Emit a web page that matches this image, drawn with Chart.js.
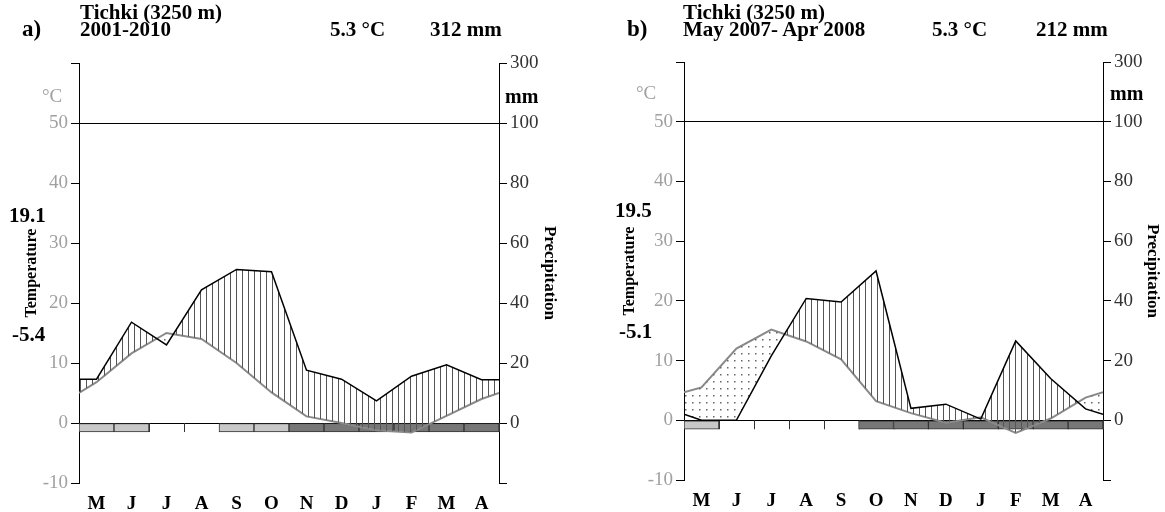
<!DOCTYPE html>
<html>
<head>
<meta charset="utf-8">
<script src="https://cdn.jsdelivr.net/npm/chart.js@4.4.1/dist/chart.umd.min.js"></script>
<style>
  body { margin: 0; background: #fff; width: 1165px; height: 512px; position: relative; overflow: hidden; font-family: 'Liberation Serif', serif; }
  .panel { position: absolute; top: 0; height: 512px; }
  .lbl { position: absolute; white-space: nowrap; line-height: 1; }
</style>
</head>
<body>
<div class="panel" style="left:0;width:580px"><canvas id="chartA"></canvas></div>
<div class="panel" style="left:605px;width:560px"><canvas id="chartB"></canvas></div>
<script>
// DATA
// x = left edge, the 12 month centres (May..Apr), right edge
const MONTHS = ['M', 'J', 'J', 'A', 'S', 'O', 'N', 'D', 'J', 'F', 'M', 'A'];

// a) 2001-2010
const TEMP_A = [5.0, 6.8, 11.6, 15.0, 14.0, 10.0, 5.1, 1.1, 0.0, -1.2, -1.6, 1.2, 4.0, 5.0];   // °C
const PREC_A = [14.6, 14.6, 33.6, 26.0, 44.4, 51.2, 50.4, 17.6, 14.6, 7.4, 15.6, 19.4, 14.4, 14.4]; // mm
const FROST_A = [1, 1, 0, 0, 1, 1, 2, 2, 2, 2, 2, 2]; // 0 none, 1 probable frost, 2 sure frost

// b) May 2007 - Apr 2008
const TEMP_B = [4.7, 5.5, 12.0, 15.2, 13.2, 10.2, 3.2, 1.2, -0.4, 0.5, -2.1, 0.3, 3.8, 4.7];
const PREC_B = [2.0, 0, 0, 21.6, 40.8, 39.6, 50.0, 4.0, 5.4, 0.4, 26.6, 14.0, 3.8, 2.0];
const FROST_B = [1, 0, 0, 0, 0, 2, 2, 2, 2, 2, 2, 2];

const TEMP_TICKS = [-10, 0, 10, 20, 30, 40, 50, 60];
const FROST_DEPTH = 1.5;

/**********************************************************************************
 * HELPERS
 *********************************************************************************/

const X_POS = [0].concat(MONTHS.map((m, i) => i + 0.5), [12]);

// Walter-Lieth: 10 °C = 20 mm up to 100 mm, above that 1:10
function precToTemp(mm) {
    return mm <= 100 ? mm / 2 : 50 + (mm - 100) / 20;
}
function tempToPrecLabel(t) {
    if (t < 0) return '';
    return t <= 50 ? t * 2 : 100 + (t - 50) * 20;
}

function hatchPattern() {
    const c = document.createElement('canvas');
    c.width = 6; c.height = 6;
    const g = c.getContext('2d');
    g.fillStyle = '#555';
    g.fillRect(2, 0, 1, 6);
    return g.createPattern(c, 'repeat');
}

function dotPattern() {
    const c = document.createElement('canvas');
    c.width = 7; c.height = 7;
    const g = c.getContext('2d');
    g.fillStyle = '#666';
    g.fillRect(3, 3, 1.5, 1.5);
    return g.createPattern(c, 'repeat');
}

// little month dividers under the zero line
const monthTicks = {
    id: 'monthTicks',
    beforeDatasetsDraw(chart) {
        const {ctx, scales: {x, y}} = chart;
        ctx.save();
        ctx.strokeStyle = '#333';
        ctx.lineWidth = 1;
        for (let i = 0; i <= 12; i++) {
            const px = Math.round(x.getPixelForValue(i)) + 0.5;
            ctx.beginPath();
            ctx.moveTo(px, y.getPixelForValue(0));
            ctx.lineTo(px, y.getPixelForValue(-FROST_DEPTH));
            ctx.stroke();
        }
        ctx.restore();
    }
};

/**********************************************************************************
 * CHARTS
 *********************************************************************************/

function makeChart(id, temp, prec, frost, lay) {
    const serif = 'Liberation Serif';
    return new Chart(document.getElementById(id), {
        data: {
            datasets: [
                {
                    type: 'line',
                    label: 'Precipitation',
                    data: prec.map((v, i) => ({x: X_POS[i], y: precToTemp(v)})),
                    borderColor: '#000',
                    borderWidth: 1.5,
                    pointRadius: 0,
                    tension: 0,
                    fill: {target: 1, above: hatchPattern(), below: dotPattern()},
                    order: 0
                },
                {
                    type: 'line',
                    label: 'Temperature',
                    data: temp.map((v, i) => ({x: X_POS[i], y: v})),
                    borderColor: '#8a8a8a',
                    borderWidth: 2,
                    pointRadius: 0,
                    tension: 0,
                    fill: false,
                    order: 1
                },
                {
                    type: 'bar',
                    label: 'Frost',
                    data: frost.map((f, i) => ({x: i + 0.5, y: f ? [-FROST_DEPTH, 0] : null})),
                    backgroundColor: (c) => frost[c.dataIndex] === 2 ? '#777' : '#c8c8c8',
                    borderColor: '#333',
                    borderWidth: 1,
                    borderSkipped: false,
                    barPercentage: 1,
                    categoryPercentage: 1,
                    order: 2
                }
            ]
        },
        options: {
            responsive: true,
            maintainAspectRatio: false,
            animation: false,
            layout: {padding: {top: lay.top, left: 0, right: 0, bottom: 0}},
            plugins: {legend: {display: false}, tooltip: {enabled: false}},
            scales: {
                x: {
                    type: 'linear',
                    min: 0,
                    max: 12,
                    offset: false,
                    afterBuildTicks: (s) => { s.ticks = MONTHS.map((m, i) => ({value: i + 0.5})); },
                    afterFit: (s) => { s.height = lay.xh; },
                    grid: {display: false, offset: false},
                    border: {display: false},
                    ticks: {
                        autoSkip: false,
                        maxRotation: 0,
                        padding: 2,
                        color: '#000',
                        font: {family: serif, size: 19, weight: 'bold'},
                        callback: (v, i) => MONTHS[i]
                    }
                },
                y: {
                    position: 'left',
                    min: -10,
                    max: 60,
                    afterBuildTicks: (s) => { s.ticks = TEMP_TICKS.map(v => ({value: v})); },
                    afterFit: (s) => { s.width = lay.lw; },
                    border: {display: true, color: '#000', width: 1},
                    grid: {
                        color: (c) => (c.tick && (c.tick.value === 0 || c.tick.value === 50)) ? '#000' : 'rgba(0,0,0,0)',
                        tickColor: '#000',
                        tickLength: 8,
                        lineWidth: 1
                    },
                    ticks: {
                        color: '#a0a0a0',
                        padding: 3,
                        font: {family: serif, size: 19},
                        callback: (v) => v === 60 ? '' : v
                    },
                    title: {
                        display: true,
                        text: 'Temperature',
                        color: '#000',
                        font: {family: serif, size: 16, weight: 'bold'},
                        padding: {top: lay.tpad, bottom: 0}
                    }
                },
                y2: {
                    position: 'right',
                    min: -10,
                    max: 60,
                    afterBuildTicks: (s) => { s.ticks = TEMP_TICKS.map(v => ({value: v})); },
                    afterFit: (s) => { s.width = lay.rw; },
                    border: {display: true, color: '#000', width: 1},
                    grid: {drawOnChartArea: false, color: '#000', tickColor: '#000', tickLength: 8},
                    ticks: {
                        color: '#333',
                        padding: 3,
                        font: {family: serif, size: 19},
                        callback: (v) => tempToPrecLabel(v)
                    },
                    title: {
                        display: true,
                        text: 'Precipitation',
                        color: '#000',
                        font: {family: serif, size: 17, weight: 'bold'},
                        padding: {top: lay.ppad, bottom: 0}
                    }
                }
            }
        },
        plugins: [monthTicks]
    });
}

makeChart('chartA', TEMP_A, PREC_A, FROST_A, {top: 63, xh: 29, lw: 79, rw: 81, tpad: 22, ppad: 20});
makeChart('chartB', TEMP_B, PREC_B, FROST_B, {top: 62, xh: 32, lw: 79, rw: 62, tpad: 15, ppad: 2});

/**********************************************************************************
 * TEXT
 *********************************************************************************/

function label(text, x, cy, size, opts) {
    opts = opts || {};
    const d = document.createElement('div');
    d.className = 'lbl';
    d.textContent = text;
    d.style.left = x + 'px';
    d.style.top = Math.round(cy - size * 0.55) + 'px';
    d.style.fontSize = size + 'px';
    d.style.fontWeight = opts.normal ? 'normal' : 'bold';
    d.style.color = opts.color || '#000';
    document.body.appendChild(d);
}

// a)
label('a)', 22, 30, 23);
label('Tichki (3250 m)', 80, 14, 21);
label('2001-2010', 80, 31, 21);
label('5.3 °C', 330, 31, 21);
label('312 mm', 430, 31, 21);
label('°C', 42, 96, 19, {normal: true, color: '#a0a0a0'});
label('mm', 505, 97, 20);
label('19.1', 9, 217, 21);
label('-5.4', 12, 336, 21);

// b)
label('b)', 627, 30, 23);
label('Tichki (3250 m)', 683, 14, 21);
label('May 2007- Apr 2008', 683, 31, 21);
label('5.3 °C', 932, 31, 21);
label('212 mm', 1036, 31, 21);
label('°C', 636, 93, 19, {normal: true, color: '#a0a0a0'});
label('mm', 1110, 94, 20);
label('19.5', 615, 212, 21);
label('-5.1', 619, 333, 21);
</script>
</body>
</html>
